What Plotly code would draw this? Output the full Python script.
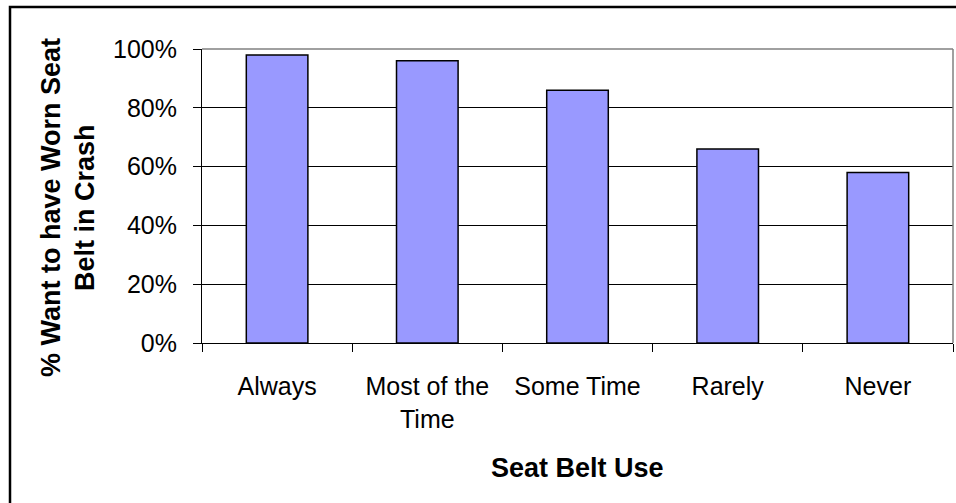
import plotly.graph_objects as go

categories = ["Always", "Most of the<br>Time", "Some Time", "Rarely", "Never"]
values = [0.98, 0.96, 0.86, 0.66, 0.58]
y_ticks = [0, 0.2, 0.4, 0.6, 0.8, 1.0]
y_tick_labels = ["0%", "20%", "40%", "60%", "80%", "100%"]
x_title = "Seat Belt Use"
y_title_lines = ["% Want to have Worn Seat", "Belt in Crash"]

W, H = 956, 503
L, R, T, B = 202, 3, 49, 160
pw, ph = W - L - R, H - T - B

def px_x(x):
    return (x - L) / pw

def px_y(y):
    return (H - B - y) / ph

FONT = "Arial, Liberation Sans, sans-serif"

fig = go.Figure(go.Bar(
    x=categories, y=values,
    marker=dict(color="#9999FF", line=dict(color="black", width=1.5)),
    width=0.41,
))

fig.update_layout(
    width=W, height=H,
    margin=dict(l=L, r=R, t=T, b=B, pad=0),
    paper_bgcolor="white", plot_bgcolor="white",
    showlegend=False,
    font=dict(family=FONT, size=25, color="black"),
    xaxis=dict(
        type="category", tickson="boundaries",
        showline=True, linecolor="black", linewidth=1,
        ticks="outside", ticklen=8, tickcolor="black", tickwidth=1,
        showgrid=False, ticklabelstandoff=21,
        tickfont=dict(family=FONT, size=25, color="black"),
        range=[-0.5, 4.5], fixedrange=True,
    ),
    yaxis=dict(
        range=[0, 1.0], tickvals=y_ticks, ticktext=y_tick_labels,
        showline=True, linecolor="black", linewidth=1,
        ticks="outside", ticklen=8, tickcolor="black", tickwidth=1,
        showgrid=True, gridcolor="black", gridwidth=1,
        zeroline=False, ticklabelstandoff=11,
        tickfont=dict(family=FONT, size=25, color="black"),
    ),
    shapes=[
        # plot area grey border (top and right)
        dict(type="line", xref="paper", yref="paper", x0=0, x1=1, y0=1, y1=1,
             line=dict(color="#808080", width=1.5)),
        dict(type="line", xref="paper", yref="paper", x0=1, x1=1, y0=0, y1=1,
             line=dict(color="#808080", width=1.5)),
        # outer chart frame (left and top visible)
        dict(type="rect", xref="paper", yref="paper",
             x0=px_x(10), x1=px_x(1100), y0=px_y(600), y1=px_y(7),
             line=dict(color="black", width=2.5), layer="above"),
    ],
    annotations=[
        dict(text="<b>" + x_title + "</b>", xref="paper", yref="paper",
             x=0.5, y=px_y(468), xanchor="center", yanchor="middle",
             showarrow=False, font=dict(family=FONT, size=27, color="black")),
        dict(text="<b>" + y_title_lines[0] + "</b>", xref="paper", yref="paper",
             x=px_x(51), y=px_y(208), xanchor="center", yanchor="middle",
             textangle=-90, showarrow=False,
             font=dict(family=FONT, size=27, color="black")),
        dict(text="<b>" + y_title_lines[1] + "</b>", xref="paper", yref="paper",
             x=px_x(85), y=px_y(208), xanchor="center", yanchor="middle",
             textangle=-90, showarrow=False,
             font=dict(family=FONT, size=27, color="black")),
    ],
)

fig.write_html("out.html", config={"displayModeBar": False})
